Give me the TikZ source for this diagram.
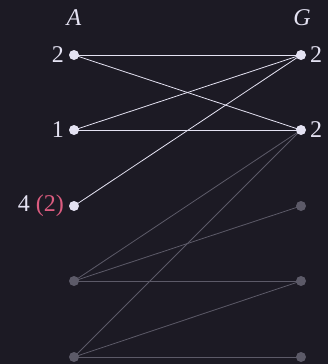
\documentclass[tikz,border=0pt]{standalone}
\usepackage{fontspec}
\setmainfont{Liberation Serif}
\definecolor{bg}{HTML}{1C1A24}
\definecolor{fg}{HTML}{E4E2F2}
\definecolor{dim}{HTML}{5C5A68}
\definecolor{pinkc}{HTML}{DC5C80}
\begin{document}
\begin{tikzpicture}[x=1pt,y=-1pt,
  lbl/.style={text=fg,font=\fontsize{24}{28}\selectfont,inner sep=0pt},
  dot/.style={circle,fill=fg,minimum size=10pt,inner sep=0pt},
  ddot/.style={circle,fill=dim,minimum size=10pt,inner sep=0pt},
  bright/.style={draw=fg,line width=0.8pt},
  faint/.style={draw=dim,line width=0.8pt}]
\fill[bg] (0,0) rectangle (328,364);
\useasboundingbox (0,0) rectangle (328,364);
% node positions
\coordinate (a0) at (74,55);
\coordinate (a1) at (74,130);
\coordinate (a2) at (74,206);
\coordinate (a3) at (74,281);
\coordinate (a4) at (74,357);
\coordinate (g0) at (301,55);
\coordinate (g1) at (301,130);
\coordinate (g2) at (301,206);
\coordinate (g3) at (301,281);
\coordinate (g4) at (301,357);
% edges
\path[faint] (a3) -- (g1);
\path[faint] (a3) -- (g2);
\path[faint] (a3) -- (g3);
\path[faint] (a4) -- (g1);
\path[faint] (a4) -- (g3);
\path[faint] (a4) -- (g4);
\path[bright] (a0) -- (g0);
\path[bright] (a0) -- (g1);
\path[bright] (a1) -- (g0);
\path[bright] (a1) -- (g1);
\path[bright] (a2) -- (g0);
% dots
\node[dot] (na0) at (a0) {};
\node[dot] (na1) at (a1) {};
\node[dot] (na2) at (a2) {};
\node[ddot] (na3) at (a3) {};
\node[ddot] (na4) at (a4) {};
\node[dot] (ng0) at (g0) {};
\node[dot] (ng1) at (g1) {};
\node[ddot] (ng2) at (g2) {};
\node[ddot] (ng3) at (g3) {};
\node[ddot] (ng4) at (g4) {};
% labels
\node[lbl] (hA) at (74,18) {\textit{A}};
\node[lbl] (hG) at (302,18) {\textit{G}};
\node[lbl,anchor=east] (la0) at ([xshift=-10pt]a0) {2};
\node[lbl,anchor=east] (la1) at ([xshift=-10pt]a1) {1};
\node[lbl,anchor=east] (la2) at ([xshift=-10pt]a2) {4 \textcolor{pinkc}{(2)}};
\node[lbl,anchor=west] (lg0) at ([xshift=9pt]g0) {2};
\node[lbl,anchor=west] (lg1) at ([xshift=9pt]g1) {2};
\end{tikzpicture}
\end{document}
